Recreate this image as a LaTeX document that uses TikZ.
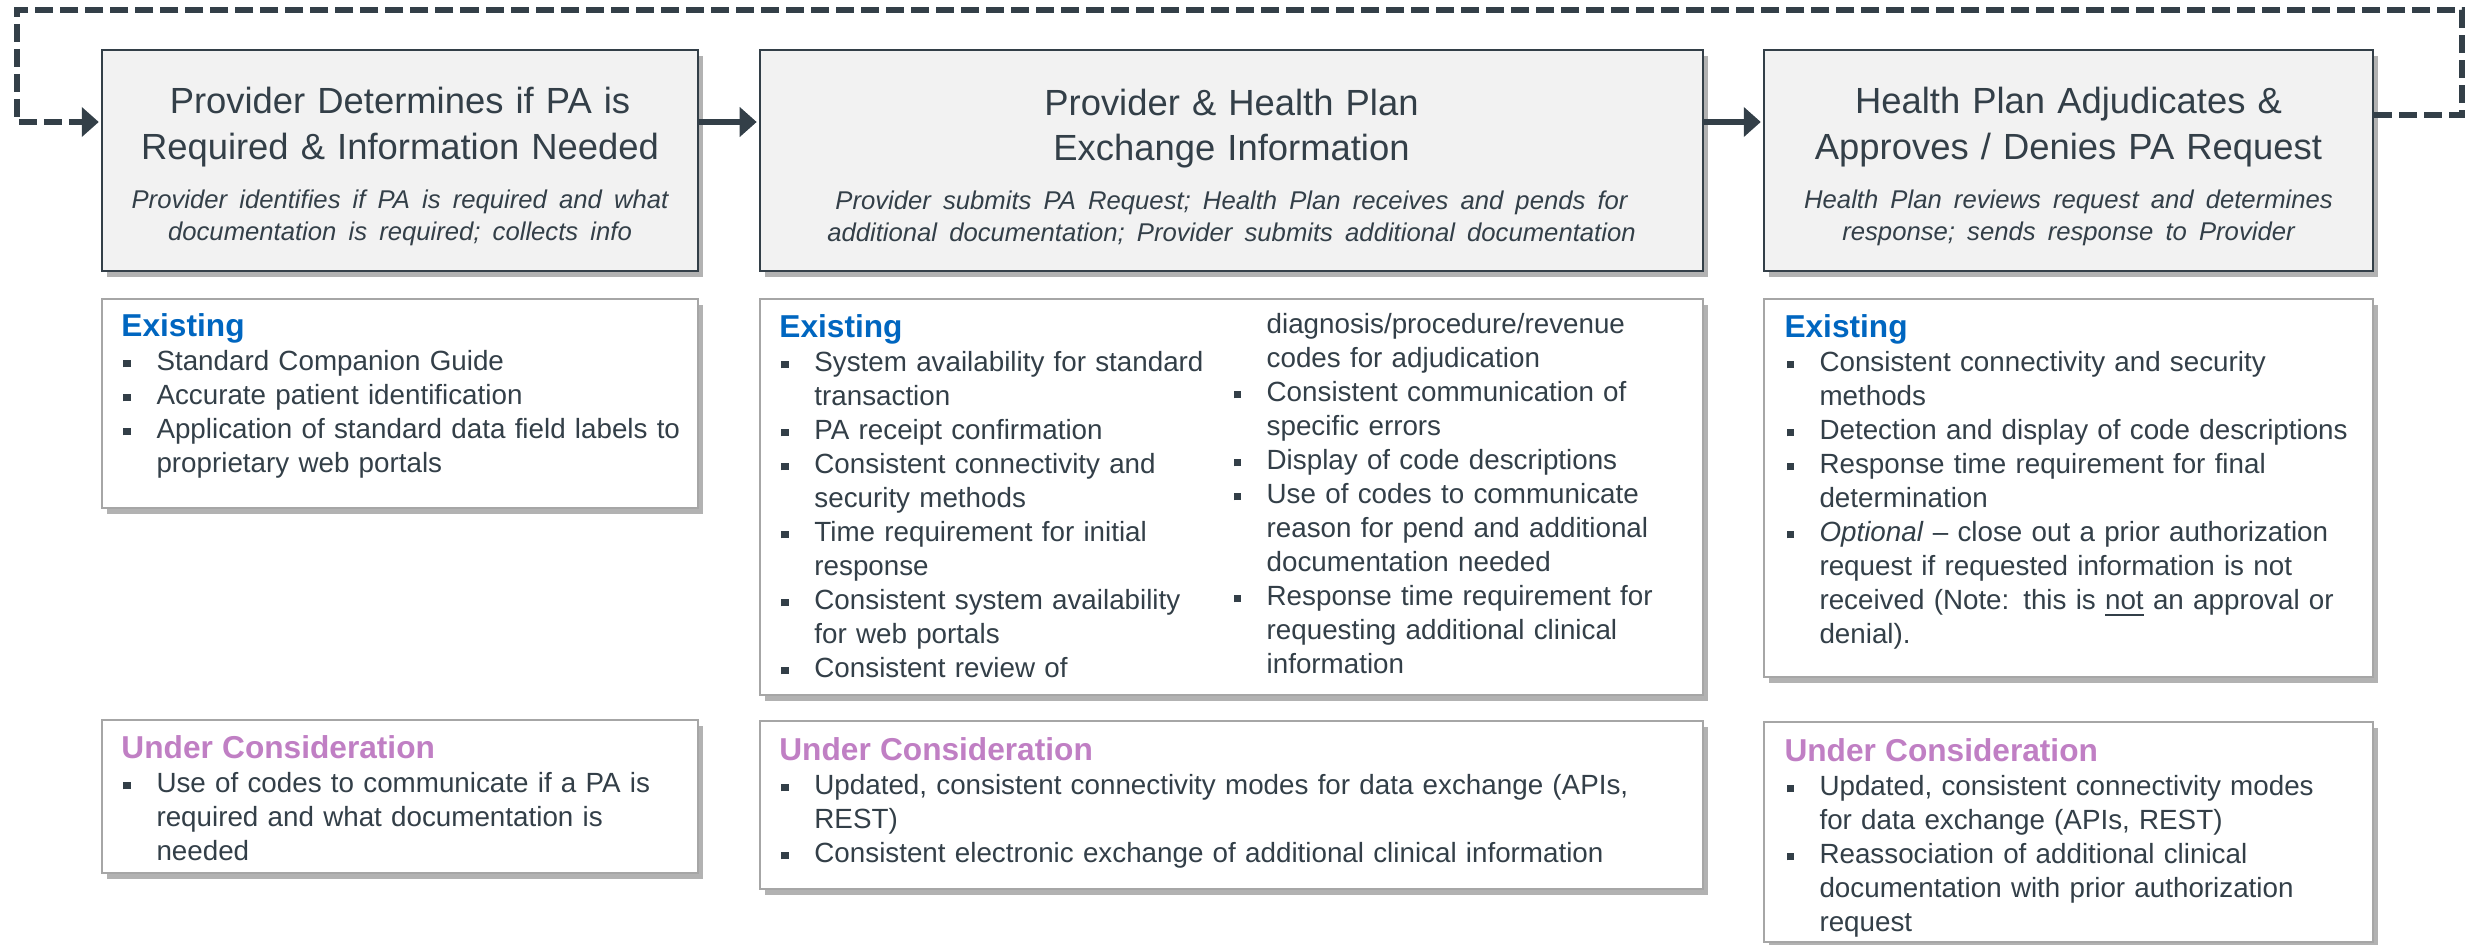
\documentclass[tikz,border=0pt]{standalone}
\usepackage{fontspec}
\setmainfont{Liberation Sans}
\usepackage{tikz}
\usetikzlibrary{arrows.meta}
\usetikzlibrary{positioning}
\usetikzlibrary{shadows}
\definecolor{slate}{HTML}{333F48}
\definecolor{headgray}{HTML}{F2F2F2}
\definecolor{framegray}{HTML}{A6A6A6}
\definecolor{existblue}{HTML}{0066C0}
\definecolor{ucpurple}{HTML}{C07FC4}
\newcommand\titlesize{\fontsize{10.35pt}{12.8pt}\selectfont}
\newcommand\subsize{\fontsize{7.3pt}{9.2pt}\selectfont\itshape}
\newcommand\bodysize{\fontsize{7.9pt}{9.67pt}\selectfont}
\newcommand\headsize{\fontsize{9pt}{10pt}\selectfont\bfseries}
\newcommand\exhead{{\leavevmode\headsize\color{existblue}Existing\par}}
\newcommand\uchead{{\leavevmode\headsize\color{ucpurple}Under Consideration\par}}
\newcommand\bul[1]{\par\noindent\hangindent=0.35cm\hangafter=1
  \makebox[0.35cm][l]{\hspace{0.02cm}\rule[0.035cm]{0.075cm}{0.075cm}}{\let\\\newline #1}\par}
\newcommand\bulcont[1]{{\leavevmode\hangindent=0.35cm\hangafter=0 \let\\\newline #1\par}}
\tikzset{shade/.style = {drop shadow={shadow xshift=0.05cm, shadow yshift=-0.06cm, fill=black, opacity=0.3}}}
\tikzset{headbox/.style = {draw=slate, fill=headgray, line width=0.6pt, inner sep=0,
                           text=slate, font=\titlesize, shade}}
\tikzset{listbox/.style = {draw=framegray, fill=white, line width=0.6pt, inner sep=0, shade}}
\tikzset{listtext/.style = {anchor=base west, inner sep=0, align=left, text=slate, font=\bodysize}}
\tikzset{flow/.style = {draw=slate, line width=1.7pt, -{Triangle[length=0.17cm, width=0.29cm]},
                        shorten >=0.02cm}}
\tikzset{loopline/.style = {flow, dash pattern=on 0.18cm off 0.07cm}}

\begin{document}
\begin{tikzpicture}[x=0.01cm, y=-0.01cm]
  \useasboundingbox (0, 0) rectangle (2473, 944);
  \node [headbox, minimum width=5.96cm, minimum height=2.21cm, text width=5.8cm] (prov) at (400, 160.5)
    {\centering\rule{0pt}{0.39cm}Provider Determines if PA is\\ Required \& Information Needed\par
     {\subsize\vspace{0.17cm}Provider identifies if PA is required and what\\
      documentation is required; collects info\par}};
  \node [headbox, minimum width=9.43cm, minimum height=2.21cm, text width=9.2cm] (exch) at (1231.5, 160.5)
    {\centering\rule{0pt}{0.39cm}Provider \& Health Plan\\ Exchange Information\par
     {\subsize\vspace{0.17cm}Provider submits PA Request; Health Plan receives and pends for\\
      additional documentation; Provider submits additional documentation\par}};
  \node [headbox, minimum width=6.09cm, minimum height=2.21cm, text width=5.9cm] (adj) at (2068.5, 160.5)
    {\centering\rule{0pt}{0.39cm}Health Plan Adjudicates \&\\ Approves / Denies PA Request\par
     {\subsize\vspace{0.17cm}Health Plan reviews request and determines\\
      response; sends response to Provider\par}};
  \draw [flow] ([yshift=0.385cm]prov.east) -- ([yshift=0.385cm]exch.west);
  \draw [flow] ([yshift=0.385cm]exch.east) -- ([yshift=0.385cm]adj.west);
  \coordinate (loopR) at (2462, 10);
  \coordinate (loopL) at (17, 10);
  \draw [loopline] ([yshift=0.455cm]adj.east) -| (loopR) -- (loopL) |- ([yshift=0.385cm]prov.west);
  \node [listbox, minimum width=5.96cm, minimum height=2.09cm] (ex1) at (400, 403.5) {};
  \node [listbox, minimum width=9.43cm, minimum height=3.96cm] (ex2) at (1231.5, 497) {};
  \node [listbox, minimum width=6.09cm, minimum height=3.78cm] (ex3) at (2068.5, 488) {};
  \node [listbox, minimum width=5.96cm, minimum height=1.53cm] (uc1) at (400, 796.5) {};
  \node [listbox, minimum width=9.43cm, minimum height=1.68cm] (uc2) at (1231.5, 805) {};
  \node [listbox, minimum width=6.09cm, minimum height=2.20cm] (uc3) at (2068.5, 832) {};
  \node [listtext, text width=5.9cm] (ex1txt) at ([shift={(0.2cm, -0.39cm)}]ex1.north west)
    {\exhead
     \bul{Standard Companion Guide}
     \bul{Accurate patient identification}
     \bul{Application of standard data field labels to\\ proprietary web portals}};
  \node [listtext, text width=4.5cm] (ex2txt) at ([shift={(0.2cm, -0.40cm)}]ex2.north west)
    {\exhead
     \bul{System availability for standard\\ transaction}
     \bul{PA receipt confirmation}
     \bul{Consistent connectivity and\\ security methods}
     \bul{Time requirement for initial\\ response}
     \bul{Consistent system availability\\ for web portals}
     \bul{Consistent review of}};
  \node [listtext, text width=4.6cm] (ex2more) at ([shift={(4.72cm, -0.36cm)}]ex2.north west)
    {\bulcont{diagnosis/procedure/revenue\\ codes for adjudication}
     \bul{Consistent communication of\\ specific errors}
     \bul{Display of code descriptions}
     \bul{Use of codes to communicate\\ reason for pend and additional\\ documentation needed}
     \bul{Response time requirement for\\ requesting additional clinical\\ information}};
  \node [listtext, text width=5.9cm] (ex3txt) at ([shift={(0.21cm, -0.40cm)}]ex3.north west)
    {\exhead
     \bul{Consistent connectivity and security\\ methods}
     \bul{Detection and display of code descriptions}
     \bul{Response time requirement for final\\ determination}
     \bul{\textit{Optional} – close out a prior authorization\\ request if requested information is not\\
          received (Note: this is \underline{not} an approval or\\ denial).}};
  \node [listtext, text width=5.9cm] (uc1txt) at ([shift={(0.2cm, -0.40cm)}]uc1.north west)
    {\uchead
     \bul{Use of codes to communicate if a PA is\\ required and what documentation is\\ needed}};
  \node [listtext, text width=9cm] (uc2txt) at ([shift={(0.2cm, -0.41cm)}]uc2.north west)
    {\uchead
     \bul{Updated, consistent connectivity modes for data exchange (APIs,\\ REST)}
     \bul{Consistent electronic exchange of additional clinical information}};
  \node [listtext, text width=5.9cm] (uc3txt) at ([shift={(0.21cm, -0.41cm)}]uc3.north west)
    {\uchead
     \bul{Updated, consistent connectivity modes\\ for data exchange (APIs, REST)}
     \bul{Reassociation of additional clinical\\ documentation with prior authorization\\ request}};
\end{tikzpicture}
\end{document}
